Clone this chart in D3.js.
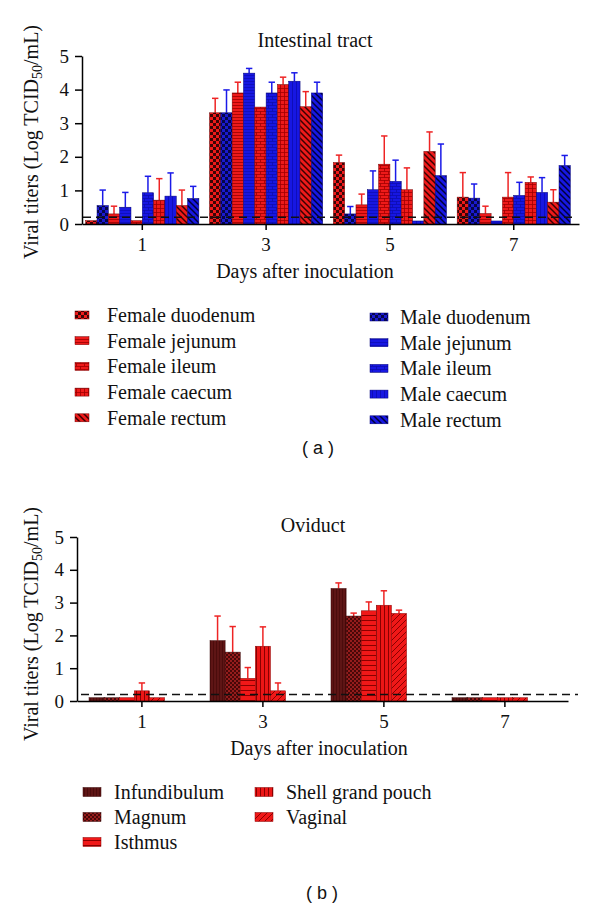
<!DOCTYPE html>
<html><head><meta charset="utf-8">
<script src="https://cdn.jsdelivr.net/npm/d3@7"></script>
<style>
body{margin:0;background:#fff} svg{display:block}
svg text{font-family:"Liberation Serif","Tinos","Times New Roman","DejaVu Serif",serif;}
svg text.sans{font-family:"Liberation Sans",Arial,"DejaVu Sans",sans-serif;}
</style>
</head><body>
<svg id="c" width="600" height="907"></svg>
<script>
// ---------- DATA ----------
const days = ["1", "3", "5", "7"];
const yTicks = [0, 1, 2, 3, 4, 5];
const detectionLimit = 0.2;

const intestSeries = ["Female duodenum", "Male duodenum", "Female jejunum", "Male jejunum",
  "Female ileum", "Male ileum", "Female caecum", "Male caecum", "Female rectum", "Male rectum"];
const femaleDuodenum = [0.10, 3.31, 1.83, 0.80];
const femaleDuodenumErr = [0, 0.43, 0.22, 0.73];
const maleDuodenum = [0.55, 3.31, 0.30, 0.77];
const maleDuodenumErr = [0.46, 0.68, 0.22, 0.42];
const femaleJejunum = [0.30, 3.90, 0.57, 0.31];
const femaleJejunumErr = [0.23, 0.32, 0.32, 0.22];
const maleJejunum = [0.50, 4.49, 1.02, 0.09];
const maleJejunumErr = [0.44, 0.14, 0.56, 0];
const femaleIleum = [0.10, 3.48, 1.78, 0.80];
const femaleIleumErr = [0, 0, 0.84, 0.73];
const maleIleum = [0.93, 3.90, 1.27, 0.85];
const maleIleumErr = [0.49, 0.32, 0.63, 0.39];
const femaleCaecum = [0.71, 4.15, 1.02, 1.24];
const femaleCaecumErr = [0.64, 0.22, 0.65, 0.16];
const maleCaecum = [0.83, 4.25, 0.09, 0.94];
const maleCaecumErr = [0.69, 0.25, 0, 0.44];
const femaleRectum = [0.55, 3.49, 2.16, 0.65];
const femaleRectumErr = [0.46, 0.45, 0.58, 0.37];
const maleRectum = [0.76, 3.90, 1.44, 1.74];
const maleRectumErr = [0.36, 0.32, 0.94, 0.30];

const oviductSeries = ["Infundibulum", "Magnum", "Isthmus", "Shell grand pouch", "Vaginal"];
const infundibulum = [0.10, 1.84, 3.43, 0.10];
const infundibulumErr = [0, 0.75, 0.17, 0];
const magnum = [0.10, 1.49, 2.59, 0.10];
const magnumErr = [0, 0.78, 0.09, 0];
const isthmus = [0.10, 0.69, 2.75, 0.10];
const isthmusErr = [0, 0.33, 0.27, 0];
const shellGrandPouch = [0.31, 1.67, 2.92, 0.10];
const shellGrandPouchErr = [0.24, 0.59, 0.44, 0];
const vaginal = [0.10, 0.31, 2.67, 0.10];
const vaginalErr = [0, 0.24, 0.10, 0];

// ---------- SETUP ----------
const svg = d3.select("#c");
const defs = svg.append("defs");
const RED = "#ee1a1a", BLUE = "#1717e2";

function pat(id, w, h, bg, build) {
  const p = defs.append("pattern").attr("id", id).attr("patternUnits", "userSpaceOnUse")
    .attr("width", w).attr("height", h);
  p.append("rect").attr("width", w).attr("height", h).attr("fill", bg);
  build(p);
}
function checker(id, s, bg, fg) {
  pat(id, 2 * s, 2 * s, bg, p => {
    p.append("rect").attr("width", s).attr("height", s).attr("fill", fg);
    p.append("rect").attr("x", s).attr("y", s).attr("width", s).attr("height", s).attr("fill", fg);
  });
}
function hlines(id, step, bg, fg, sw) {
  pat(id, 4, step, bg, p => p.append("line").attr("x1", 0).attr("x2", 4).attr("y1", 0.5).attr("y2", 0.5)
    .attr("stroke", fg).attr("stroke-width", sw));
}
function vlines(id, step, bg, fg, sw) {
  pat(id, step, 4, bg, p => p.append("line").attr("y1", 0).attr("y2", 4).attr("x1", 0.5).attr("x2", 0.5)
    .attr("stroke", fg).attr("stroke-width", sw));
}
function brick(id, bg, fg) {
  pat(id, 8, 6, bg, p => {
    p.append("path").attr("d", "M0,0.5H8M0,3.5H8M0.5,0V3.5M4.5,3.5V6").attr("stroke", fg)
      .attr("stroke-width", 0.8).attr("fill", "none");
  });
}
function grid(id, bg, fg) {
  pat(id, 4, 4, bg, p => p.append("path").attr("d", "M0,0.5H4M0.5,0V4").attr("stroke", fg)
    .attr("stroke-width", 0.8).attr("fill", "none"));
}
function diag(id, step, bg, fg, sw, back) {
  pat(id, step, step, bg, p => {
    const d = back
      ? `M0,0L${step},${step}M${-step / 2},${step / 2}L${step / 2},${step * 1.5}M${step / 2},${-step / 2}L${step * 1.5},${step / 2}`
      : `M0,${step}L${step},0M${-step / 2},${step / 2}L${step / 2},${-step / 2}M${step / 2},${step * 1.5}L${step * 1.5},${step / 2}`;
    p.append("path").attr("d", d).attr("stroke", fg).attr("stroke-width", sw).attr("fill", "none");
  });
}
checker("fduo", 3, RED, "#3a0505");
checker("mduo", 3, "#1a1ad0", "#06064a");
hlines("fjej", 3, RED, "#9a0000", 0.8);
hlines("mjej", 3, BLUE, "#0a0aa8", 0.6);
brick("fil", RED, "#a00000");
brick("mil", BLUE, "#0c0cb0");
grid("fcae", RED, "#a00000");
vlines("mcae", 4, BLUE, "#0a0aa8", 0.7);
diag("frec", 6, RED, "#3a0000", 1.5, true);
diag("mrec", 6, BLUE, "#00003a", 1.5, true);

vlines("inf", 3, "#5e1515", "#460a0a", 0.8);
checker("mag", 2, "#951c1c", "#480808");
hlines("isth", 5, "#f01818", "#8a0000", 1);
vlines("shell", 4, "#ec1616", "#8a0000", 1);
diag("vag", 6, "#f01818", "#8a0000", 1, false);

// ---------- PANEL ----------
function panel(cfg) {
  const g = svg.append("g");
  const x = d3.scaleBand().domain(days).range(cfg.xRange)
    .paddingInner(cfg.pi).paddingOuter(cfg.po).align(cfg.align);
  const xs = d3.scaleBand().domain(cfg.slots).range([0, x.bandwidth()]);
  const y = d3.scaleLinear().domain([0, 5]).range(cfg.yRange);

  const rows = [];
  cfg.series.forEach((s, i) => days.forEach((d, j) => rows.push({
    s, d, v: cfg.values[i][j], e: cfg.errors[i][j], pat: cfg.pats[i], col: cfg.errCols[i], stroke: cfg.strokes[i]
  })));

  const eb = g.append("g").selectAll("g").data(rows.filter(r => r.e > 0)).join("g")
    .attr("stroke-width", 1.5).attr("fill", "none");
  eb.append("line")
    .attr("x1", r => x(r.d) + xs(r.s) + xs.bandwidth() / 2)
    .attr("x2", r => x(r.d) + xs(r.s) + xs.bandwidth() / 2)
    .attr("y1", r => y(r.v)).attr("y2", r => y(r.v + r.e)).attr("stroke", r => r.col);
  eb.append("line")
    .attr("x1", r => x(r.d) + xs(r.s) + xs.bandwidth() / 2 - 3.2)
    .attr("x2", r => x(r.d) + xs(r.s) + xs.bandwidth() / 2 + 3.2)
    .attr("y1", r => y(r.v + r.e)).attr("y2", r => y(r.v + r.e)).attr("stroke", r => r.col);

  g.append("g").selectAll("rect").data(rows).join("rect")
    .attr("x", r => x(r.d) + xs(r.s)).attr("width", xs.bandwidth())
    .attr("y", r => y(r.v)).attr("height", r => y(0) - y(r.v))
    .attr("fill", r => `url(#${r.pat})`).attr("stroke", r => r.stroke).attr("stroke-width", 0.5);

  g.append("line").attr("x1", cfg.dash[0]).attr("x2", cfg.dash[1])
    .attr("y1", y(detectionLimit)).attr("y2", y(detectionLimit))
    .attr("stroke", "#111").attr("stroke-width", 1.5).attr("stroke-dasharray", "8,5");

  const ya = g.append("g").attr("transform", `translate(${cfg.xRange[0]},0)`)
    .call(d3.axisLeft(y).tickValues(yTicks).tickSize(7).tickSizeOuter(0).tickPadding(6).tickFormat(d3.format("d")));
  const xa = g.append("g").attr("transform", `translate(0,${y(0)})`)
    .call(d3.axisBottom(x).tickSize(6).tickSizeOuter(0).tickPadding(8));
  [ya, xa].forEach(a => {
    a.attr("font-family", null).attr("font-size", null);
    a.selectAll("path,line").attr("stroke", "#000").attr("stroke-width", 1.5);
    a.selectAll("text").style("font-size", "19px").attr("fill", "#111");
  });

  g.append("text").attr("x", cfg.titleX).attr("y", cfg.titleY).attr("text-anchor", "middle")
    .style("font-size", "20px").attr("fill", "#111").text(cfg.title);
  g.append("text").attr("x", cfg.xlabX).attr("y", cfg.xlabY).attr("text-anchor", "middle")
    .style("font-size", "20px").attr("fill", "#111").text("Days after inoculation");
  const yl = g.append("text").attr("transform", `translate(${cfg.ylabX},${cfg.ylabY}) rotate(-90)`)
    .attr("text-anchor", "middle").style("font-size", "20px").attr("fill", "#111");
  yl.append("tspan").text("Viral titers (Log TCID");
  yl.append("tspan").attr("dy", 4).style("font-size", "14px").text("50");
  yl.append("tspan").attr("dy", -4).text("/mL)");

  cfg.legend.forEach(L => {
    const lg = g.append("g");
    L.items.forEach((idx, k) => {
      const cy = L.y0 + k * L.dy;
      lg.append("rect").attr("x", L.sx).attr("y", cy - L.sh / 2).attr("width", L.sw).attr("height", L.sh)
        .attr("fill", `url(#${cfg.pats[idx]})`).attr("stroke", cfg.strokes[idx]).attr("stroke-width", 0.5);
      lg.append("text").attr("x", L.tx).attr("y", cy + 7).style("font-size", "20px")
        .attr("fill", "#111").text(cfg.series[idx]);
    });
  });

  g.append("text").attr("class", "sans").attr("x", cfg.tagX).attr("y", cfg.tagY).attr("text-anchor", "middle")
    .style("font-size", "18px").attr("fill", "#111")
    .style("white-space", "pre").text(cfg.tag);
}

panel({
  series: intestSeries,
  slots: intestSeries,
  values: [femaleDuodenum, maleDuodenum, femaleJejunum, maleJejunum, femaleIleum, maleIleum,
    femaleCaecum, maleCaecum, femaleRectum, maleRectum],
  errors: [femaleDuodenumErr, maleDuodenumErr, femaleJejunumErr, maleJejunumErr, femaleIleumErr, maleIleumErr,
    femaleCaecumErr, maleCaecumErr, femaleRectumErr, maleRectumErr],
  pats: ["fduo", "mduo", "fjej", "mjej", "fil", "mil", "fcae", "mcae", "frec", "mrec"],
  errCols: intestSeries.map((s, i) => i % 2 === 0 ? "#ee2424" : "#1a1ae8"),
  strokes: intestSeries.map((s, i) => i % 2 === 0 ? "#7a0000" : "#00007a"),
  xRange: [82, 579], pi: 0.086, po: 0.05, align: 0.3,
  yRange: [224, 56],
  dash: [83, 575],
  title: "Intestinal tract", titleX: 315, titleY: 47,
  xlabX: 305, xlabY: 278,
  ylabX: 38, ylabY: 142,
  legend: [
    { items: [0, 2, 4, 6, 8], sx: 75, sw: 14, sh: 8, tx: 107, y0: 315, dy: 25.7 },
    { items: [1, 3, 5, 7, 9], sx: 370, sw: 18, sh: 8, tx: 400, y0: 317, dy: 25.7 }
  ],
  tag: "( a )", tagX: 318, tagY: 454
});

panel({
  series: oviductSeries,
  slots: oviductSeries.concat(["_a", "_b"]),
  values: [infundibulum, magnum, isthmus, shellGrandPouch, vaginal],
  errors: [infundibulumErr, magnumErr, isthmusErr, shellGrandPouchErr, vaginalErr],
  pats: ["inf", "mag", "isth", "shell", "vag"],
  errCols: oviductSeries.map(() => "#ee2424"),
  strokes: ["#3a0505", "#3a0505", "#8a0000", "#8a0000", "#8a0000"],
  xRange: [77, 568], pi: 0.126, po: 0.092, align: 0.54,
  yRange: [701, 537],
  dash: [81, 578],
  title: "Oviduct", titleX: 313, titleY: 532,
  xlabX: 319, xlabY: 755,
  ylabX: 38, ylabY: 624,
  legend: [
    { items: [0, 1, 2], sx: 83, sw: 18, sh: 9, tx: 114, y0: 792, dy: 25 },
    { items: [3, 4], sx: 255, sw: 18, sh: 9, tx: 286, y0: 792, dy: 25 }
  ],
  tag: "( b )", tagX: 322, tagY: 899
});
</script>
</body></html>
